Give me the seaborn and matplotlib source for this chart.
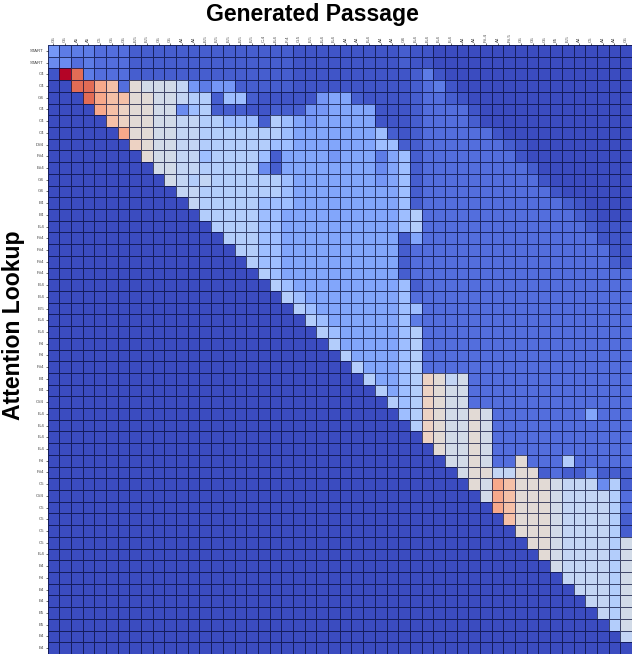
import matplotlib
matplotlib.use("Agg")
import matplotlib.pyplot as plt
import pandas as pd
import seaborn as sns

plt.rcParams['font.family'] = ['Liberation Sans', 'DejaVu Sans']

# colour levels, one letter per cell below
LEVELS = {'A': 0.0, 'B': 0.02, 'C': 0.04, 'D': 0.08, 'E': 0.11, 'F': 0.15,
          'G': 0.18, 'H': 0.22, 'I': 0.30, 'J': 0.36, 'K': 0.41, 'L': 0.46,
          'M': 0.52, 'N': 0.57, 'R': 0.64, 'O': 0.71, 'P': 0.85, 'Q': 1.0}

row_labels = ['START', 'START', 'C4', 'C4', 'G4', 'C4', 'C4', 'C4', 'D#4', 'F#4', 'E#4', 'G4', 'G4',
              'B4', 'B4', 'E-4', 'F#4', 'F#4', 'F#4', 'F#4', 'B-4', 'B-4', 'B-5', 'E-4', 'E-4', 'F4',
              'F4', 'F#4', 'B4', 'B4', 'C#4', 'E-4', 'E-4', 'E-4', 'E-4', 'F4', 'F#4', 'C5', 'C#4',
              'C5', 'C5', 'C5', 'C5', 'E-4', 'E4', 'F4', 'E4', 'E4', 'E5', 'E5', 'E4', 'E4']

col_labels = ['G5', 'G5', 'A5', 'A5', 'C5', 'G5', 'G5', 'E-5', 'E-5', 'G5',
              'G5', 'A4', 'A4', 'E-5', 'E-5', 'E-5', 'E-5', 'E-5', 'C-4', 'E-4',
              'F-4', 'G-5', 'E-5', 'E-4', 'E-4', 'A4', 'A4', 'E-4', 'A4', 'A4',
              'G4', 'E-4', 'E-4', 'E-4', 'E-4', 'A4', 'A4', 'F#-4', 'A4', 'F#-5',
              'G5', 'G5', 'G5', 'E5', 'E-5', 'A4', 'C5', 'A4', 'A4', 'G5']

cell_rows = [
    'GEEED DDCCC CCCCC CCCCC CBBBB BBBBB CBBAA AAAAA AAAAA AAAAA',
    'FFDED DDCCC CCCCC CCCCC CBBBB BBBBB CBBAA AAAAA AAAAA AAAAA',
    'BQPED DDCCC CCCCC CCCCC CBBBB BBBBB BCEBA AAAAA AAAAA AAAAA',
    'AAPPO RDMLL LKGEG GCCCC CBBBB BBBBB BCDEB AAAAA AAAAA AAAAA',
    'AAAPO RRMML LKJJC IICBB BBBGH HCBBB BCDDC BAAAA AAAAA AAAAA',
    'AAAAO RNMML LFIJC CCBBC CCGGH HHHBB BCDDD DBAAA AAAAA AAAAA',
    'AAAAA RNMML LKKJJ IIICJ IHGHH HHHBB BCDDD DCAAA AAAAA AAAAA',
    'AAAAA AOMML LKKJJ JJJJJ IHHHH HHHIC BCDDD DDDBA AAAAA AAAAA',
    'AAAAA AANML LKKJJ JJJJI IHHHH HHHII CCDDD DDDDC BAAAA AAAAA',
    'AAAAA AAAML LKKIJ JJJIC HHHHG HHHEH ICDDD DDDDD BAAAA AAAAA',
    'AAAAA AAAAL LKKJJ JJJFC HHHHH HHHFH ICDDD DDDDD DCAAA AAAAA',
    'AAAAA AAAAA LKJKJ JJJJJ IHHHH HHHGH ICDDD DDDDD DDBAA AAAAA',
    'AAAAA AAAAA AKKJJ JJJJJ IHHHH HHHHH ICDDD DDDDD DDDBA AAAAA',
    'AAAAA AAAAA AAKJJ JJJII IHHHH HHHHH ICDDD DDDDD DDDDC BAAAA',
    'AAAAA AAAAA AAAJJ JJJII HHHHH HHHHH IJDDD DDDDD DDDDD CBAAA',
    'AAAAA AAAAA AAAAJ JJJII HHHHH HHHHH IJDDD DDDDD DDDDD DCBBB',
    'AAAAA AAAAA AAAAA JJJII HHHHH HHHHH CHDDD DDDDD DDDDD DDBBB',
    'AAAAA AAAAA AAAAA AJJII HHHHH HHHHH CDDDD DDDDD DDDDD DDDBB',
    'AAAAA AAAAA AAAAA AAJII HHHHH HHHHH CDDDD DDDDD DDDDD DDDCB',
    'AAAAA AAAAA AAAAA AAAJI HHHHH HHHHH CDDDD DDDDD DDDDD DDDDD',
    'AAAAA AAAAA AAAAA AAAAJ IHHHH HHHHH ICDDD DDDDD DDDDD DDDDD',
    'AAAAA AAAAA AAAAA AAAAA JIHHH HHHHH IDDDD DDDDD DDDDD DDDDD',
    'AAAAA AAAAA AAAAA AAAAA AJIHH HHHHH IIDDD DDDDD DDDDD DDDDD',
    'AAAAA AAAAA AAAAA AAAAA AAJIH HHHHH IEDDD DDDDD DDDDD DDDDD',
    'AAAAA AAAAA AAAAA AAAAA AAAJI HHHHH IJDDD DDDDD DDDDD DDDDD',
    'AAAAA AAAAA AAAAA AAAAA AAAAJ HHHHH IJDDD DDDDD DDDDD DDDDD',
    'AAAAA AAAAA AAAAA AAAAA AAAAA JHHHH IJDDD DDDDD DDDDD DDDDD',
    'AAAAA AAAAA AAAAA AAAAA AAAAA AJHHH IJDDD DDDDD DDDDD DDDDD',
    'AAAAA AAAAA AAAAA AAAAA AAAAA AAJHH IJNMK LDDDD DDDDD DDDDD',
    'AAAAA AAAAA AAAAA AAAAA AAAAA AAAJH IJNML LDDDD DDDDD DDDDD',
    'AAAAA AAAAA AAAAA AAAAA AAAAA AAAAJ IJNML LDDDD DDDDD DDDDD',
    'AAAAA AAAAA AAAAA AAAAA AAAAA AAAAA IJNML LMLDD DDDDD DHDDD',
    'AAAAA AAAAA AAAAA AAAAA AAAAA AAAAA AJNML LMLDD DDDDD DDDDD',
    'AAAAA AAAAA AAAAA AAAAA AAAAA AAAAA AANML LMLDD DDDDD DDDDD',
    'AAAAA AAAAA AAAAA AAAAA AAAAA AAAAA AAAML LMLDD DDDDD DDDDD',
    'AAAAA AAAAA AAAAA AAAAA AAAAA AAAAA AAAAL LMLDD MDDDJ DDDDD',
    'AAAAA AAAAA AAAAA AAAAA AAAAA AAAAA AAAAA LMMKK MMCDC CFCCC',
    'AAAAA AAAAA AAAAA AAAAA AAAAA AAAAA AAAAA AMLOR MMMLK KKFJC',
    'AAAAA AAAAA AAAAA AAAAA AAAAA AAAAA AAAAA AALOR MMMLK KKKJD',
    'AAAAA AAAAA AAAAA AAAAA AAAAA AAAAA AAAAA AAAOR MMMLK KKKJD',
    'AAAAA AAAAA AAAAA AAAAA AAAAA AAAAA AAAAA AAAAR MMMLK KKKJC',
    'AAAAA AAAAA AAAAA AAAAA AAAAA AAAAA AAAAA AAAAA MMMLK KKKJC',
    'AAAAA AAAAA AAAAA AAAAA AAAAA AAAAA AAAAA AAAAA AMMLK KKKJL',
    'AAAAA AAAAA AAAAA AAAAA AAAAA AAAAA AAAAA AAAAA AAMLK KKKJL',
    'AAAAA AAAAA AAAAA AAAAA AAAAA AAAAA AAAAA AAAAA AAALK KKKJL',
    'AAAAA AAAAA AAAAA AAAAA AAAAA AAAAA AAAAA AAAAA AAAAK KKKJL',
    'AAAAA AAAAA AAAAA AAAAA AAAAA AAAAA AAAAA AAAAA AAAAA KKKJL',
    'AAAAA AAAAA AAAAA AAAAA AAAAA AAAAA AAAAA AAAAA AAAAA AKKJL',
    'AAAAA AAAAA AAAAA AAAAA AAAAA AAAAA AAAAA AAAAA AAAAA AAKJL',
    'AAAAA AAAAA AAAAA AAAAA AAAAA AAAAA AAAAA AAAAA AAAAA AAAJL',
    'AAAAA AAAAA AAAAA AAAAA AAAAA AAAAA AAAAA AAAAA AAAAA AAAAK',
    'AAAAA AAAAA AAAAA AAAAA AAAAA AAAAA AAAAA AAAAA AAAAA AAAAA',
]

values = [[LEVELS[c] for c in row.replace(' ', '')] for row in cell_rows]
attention = pd.DataFrame(values, index=range(len(row_labels)), columns=range(len(col_labels)))

fig = plt.figure(figsize=(6.4, 6.63), dpi=100)
ax = fig.add_axes([47.5 / 640, 1 - 654 / 663, 584.5 / 640, 609 / 663])

sns.heatmap(attention, cmap='coolwarm', vmin=0, vmax=1, linewidths=0.5, linecolor=(0.02, 0.04, 0.2, 0.7),
            cbar=False, xticklabels=col_labels, yticklabels=row_labels, ax=ax)

ax.xaxis.tick_top()
ax.tick_params(axis='both', length=1.5, width=0.4, labelsize=3.2, pad=1, labelcolor='#444444')
plt.setp(ax.get_xticklabels(), rotation=90)
plt.setp(ax.get_yticklabels(), rotation=0)

fig.text(312 / 640, 1 - 14 / 663, 'Generated Passage', fontsize=16.6, fontweight='bold', ha='center', va='center')
fig.text(13.5 / 640, 1 - 325 / 663, 'Attention Lookup', fontsize=16.6, fontweight='bold', rotation=90, ha='center', va='center')

plt.savefig('out.png', dpi=100)
plt.close()
